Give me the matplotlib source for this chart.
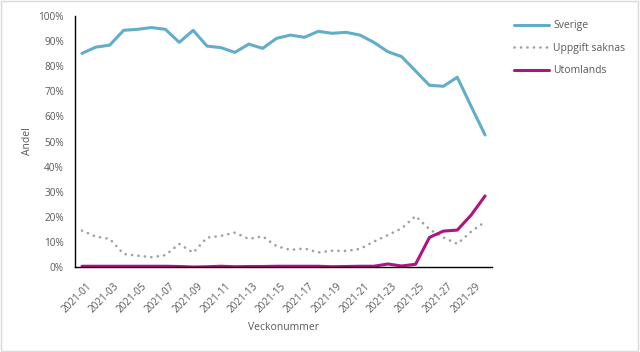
import numpy as np
import matplotlib
matplotlib.use('Agg')
import matplotlib.pyplot as plt
import matplotlib.transforms as mtransforms
from matplotlib.ticker import PercentFormatter

plt.rcParams['font.family'] = ['Open Sans', 'DejaVu Sans']

# Data (andel per vecka, i procent)
weeks = [f'2021-{w:02d}' for w in range(1, 31)]
sverige = [85.1, 87.6, 88.4, 94.3, 94.7, 95.4, 94.7, 89.5, 94.3, 88.0,
           87.4, 85.5, 88.8, 87.1, 91.1, 92.4, 91.5, 93.9, 93.1, 93.5,
           92.4, 89.5, 85.8, 83.8, 78.1, 72.4, 72.0, 75.6, 64.0, 52.6]
uppgift_saknas = [14.5, 12.1, 11.2, 5.2, 4.5, 3.9, 4.7, 9.2, 5.7, 11.7,
                  12.4, 13.7, 11.2, 12.2, 8.3, 6.8, 7.4, 5.8, 6.5, 6.4,
                  7.2, 10.1, 12.7, 15.4, 20.3, 15.0, 11.8, 9.2, 14.1, 18.0]
utomlands = [0.3, 0.3, 0.3, 0.3, 0.3, 0.3, 0.3, 0.2, 0.0, 0.1,
             0.3, 0.1, 0.2, 0.2, 0.3, 0.3, 0.3, 0.3, 0.1, 0.2,
             0.3, 0.3, 1.2, 0.4, 1.1, 11.8, 14.3, 14.7, 20.7, 28.3]

text_col = '#595959'

fig = plt.figure(figsize=(6.4, 3.52), dpi=100)
ax = fig.add_axes([75 / 640, 1 - 267 / 352, (492 - 75) / 640, (267 - 16) / 352])

x = np.arange(len(weeks))
ax.plot(x, sverige, color='#62ADC9', lw=2.2, label='Sverige', solid_capstyle='round')
ax.plot(x, uppgift_saknas, color='#A0A0A0', lw=1.9, linestyle=(0, (0.05, 2.4)),
        dash_capstyle='round', label='Uppgift saknas')
ax.plot(x, utomlands, color='#B0147F', lw=2.2, label='Utomlands', solid_capstyle='round')

ax.set_xlim(-0.5, len(weeks) - 0.5)
ax.set_ylim(0, 100)
ax.set_yticks(np.arange(0, 101, 10))
ax.yaxis.set_major_formatter(PercentFormatter(decimals=0))
ax.set_xticks(x[::2])
ax.set_xticklabels(weeks[::2], rotation=45, ha='right', rotation_mode='anchor')
ax.tick_params(axis='both', length=0, labelsize=7.2, colors=text_col)
ax.tick_params(axis='y', pad=8)
ax.tick_params(axis='x', pad=10)
shift = mtransforms.ScaledTranslation(4 / 100, 0, fig.dpi_scale_trans)
for lab in ax.get_xticklabels():
    lab.set_transform(lab.get_transform() + shift)

for s in ['top', 'right']:
    ax.spines[s].set_visible(False)
for s in ['left', 'bottom']:
    ax.spines[s].set_color('black')
    ax.spines[s].set_linewidth(1.0)

ax.set_ylabel('Andel', fontsize=7.5, color=text_col)
ax.set_xlabel('Veckonummer', fontsize=7.5, color=text_col)
ax.yaxis.set_label_coords((33 - 75) / 417, 0.5)
ax.xaxis.set_label_coords((284 - 75) / 417, -(322 - 267) / 251)

leg = ax.legend(loc='upper left', bbox_to_anchor=(1.03, 1.02), frameon=False,
                fontsize=7.5, handlelength=3.4, handletextpad=0.4, labelspacing=1.1)
for t in leg.get_texts():
    t.set_color(text_col)

# light frame around the chart
fig.patches.append(plt.Rectangle((0.002, 0.003), 0.995, 0.993, transform=fig.transFigure,
                                 fill=False, edgecolor='#D9D9D9', lw=1.0))

fig.savefig('out.png', dpi=100)
